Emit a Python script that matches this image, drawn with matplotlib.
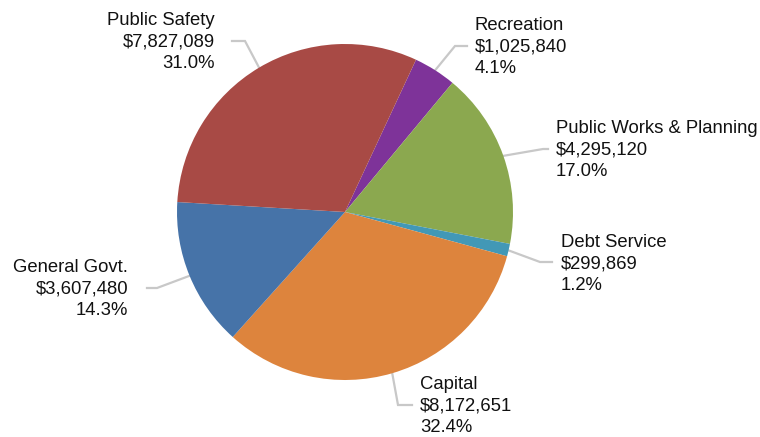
import numpy as np
import matplotlib
matplotlib.use("Agg")
import matplotlib.pyplot as plt

plt.rcParams["font.family"] = ["Liberation Sans", "DejaVu Sans"]

# budget categories, clockwise from the top
categories = ["Recreation", "Public Works & Planning", "Debt Service",
              "Capital", "General Govt.", "Public Safety"]
amounts = [1025840, 4295120, 299869, 8172651, 3607480, 7827089]
percents = [4.1, 17.0, 1.2, 32.4, 14.3, 31.0]
colors = ["#7E3399", "#8BA84F", "#4298B6", "#DD843D", "#4673A8", "#A84A45"]

# label layout in pixels (x, y from the top): elbow of the leader,
# end of the leader, text anchor, alignment
elbows = [(455, 46), (543, 149), (540, 262), (398, 405), (157, 288), (245, 41)]
ends = [(467, 46), (548, 149), (552, 262), (412, 405), (147, 288), (232, 41)]
anchors = [(475, 47), (556, 150), (561, 264), (420, 406), (128, 289), (215, 42)]
aligns = ["left", "left", "left", "left", "right", "right"]

W, H = 760, 437
cx, cy, r = 345, H - 212, 168

fig = plt.figure(figsize=(7.6, 4.37), dpi=100)
ax = fig.add_axes([0, 0, 1, 1])

wedges, _ = ax.pie(percents, colors=colors, startangle=65, counterclock=False,
                   center=(cx, cy), radius=r, frame=True,
                   wedgeprops=dict(linewidth=0))

ax.set_xlim(0, W)
ax.set_ylim(0, H)
ax.set_aspect("equal")
ax.axis("off")

for i, w in enumerate(wedges):
    mid = np.radians((w.theta1 + w.theta2) / 2)
    x0 = cx + (r - 2) * np.cos(mid)
    y0 = cy + (r - 2) * np.sin(mid)
    ex, ey = elbows[i]
    fx, fy = ends[i]
    ax.plot([x0, ex, fx], [y0, H - ey, H - fy], color="#C8C8C8", lw=1.6,
            solid_joinstyle="miter", zorder=0)
    tx, ty = anchors[i]
    label = f"{categories[i]}\n${amounts[i]:,}\n{percents[i]:.1f}%"
    ax.text(tx, H - ty, label, ha=aligns[i], va="center",
            multialignment=aligns[i], fontsize=13.3, color="#111111",
            linespacing=1.36)

fig.savefig("out.png", dpi=100)
